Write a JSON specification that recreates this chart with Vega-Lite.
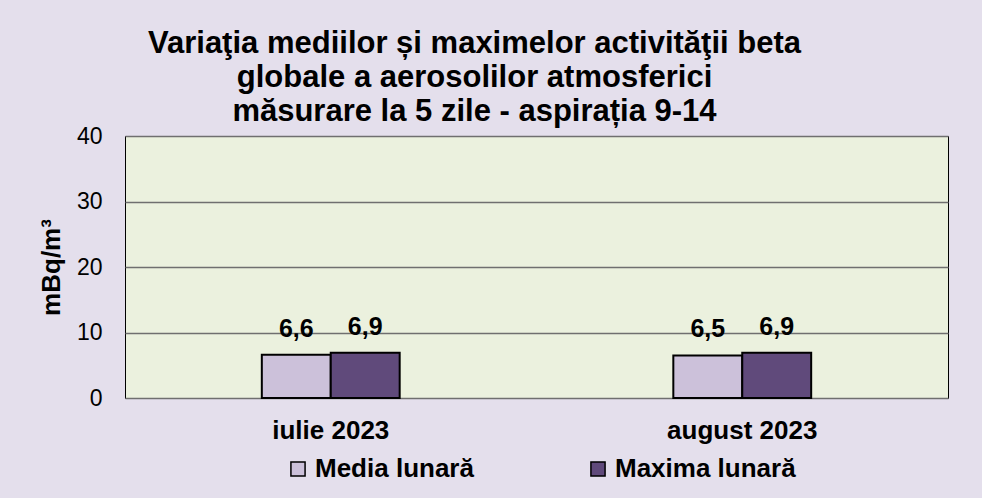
{
  "$schema": "https://vega.github.io/schema/vega-lite/v6.json",
  "width": 823,
  "height": 262,
  "autosize": {"type": "none"},
  "padding": {"left": 125, "top": 136, "right": 34, "bottom": 100},
  "background": "#E4DFEC",
  "title": {
    "text": ["Variaţia mediilor și maximelor  activităţii beta", "globale a aerosolilor atmosferici", "măsurare la 5 zile - aspirația 9-14"],
    "font": "Liberation Sans",
    "fontSize": 31,
    "fontWeight": "bold",
    "color": "#000000",
    "lineHeight": 34,
    "anchor": "middle",
    "frame": "group",
    "dx": -62,
    "offset": -3
  },
  "data": {
    "values": [
      {"month": "iulie 2023", "series": "Media lunară", "value": 6.6},
      {"month": "iulie 2023", "series": "Maxima lunară", "value": 6.9},
      {"month": "august 2023", "series": "Media lunară", "value": 6.5},
      {"month": "august 2023", "series": "Maxima lunară", "value": 6.9}
    ]
  },
  "encoding": {
    "x": {
      "field": "month",
      "type": "nominal",
      "sort": null,
      "scale": {"paddingInner": 0.665, "paddingOuter": 0.3325},
      "axis": {
        "title": null,
        "labelAngle": 0,
        "labelFont": "Liberation Sans",
        "labelFontSize": 26,
        "labelFontWeight": "bold",
        "labelColor": "#000000",
        "labelPadding": 19,
        "ticks": false,
        "domain": false,
        "grid": false
      }
    },
    "xOffset": {
      "field": "series",
      "sort": ["Media lunară", "Maxima lunară"],
      "scale": {"paddingInner": 0, "paddingOuter": 0}
    },
    "y": {
      "field": "value",
      "type": "quantitative",
      "scale": {"domain": [0, 40], "nice": false},
      "axis": {
        "title": "mBq/m³",
        "titleFont": "Liberation Sans",
        "titleFontSize": 26,
        "titleFontWeight": "bold",
        "titleColor": "#000000",
        "titlePadding": 12,
        "values": [0, 10, 20, 30, 40],
        "labelFont": "Liberation Sans",
        "labelFontSize": 23,
        "labelColor": "#000000",
        "labelPadding": 23,
        "ticks": false,
        "domain": false,
        "grid": true,
        "gridColor": "#6F6F6F",
        "gridWidth": 1.5
      }
    }
  },
  "layer": [
    {
      "mark": {"type": "bar", "stroke": "#000000", "strokeWidth": 2},
      "encoding": {
        "color": {
          "field": "series",
          "type": "nominal",
          "scale": {"domain": ["Media lunară", "Maxima lunară"], "range": ["#CCC1DA", "#604A7B"]},
          "legend": {
            "title": null,
            "orient": "none",
            "direction": "horizontal",
            "legendX": 160,
            "legendY": 320,
            "labelFont": "Liberation Sans",
            "labelFontSize": 26,
            "labelFontWeight": "bold",
            "labelColor": "#000000",
            "labelLimit": 400,
            "symbolType": "square",
            "symbolSize": 200,
            "symbolStrokeColor": "#000000",
            "symbolStrokeWidth": 1.5,
            "labelOffset": 4,
            "columnPadding": 111
          }
        }
      }
    },
    {
      "mark": {"type": "text", "font": "Liberation Sans", "fontSize": 25, "fontWeight": "bold", "baseline": "alphabetic", "dy": -18, "color": "#000000"},
      "encoding": {
        "text": {"field": "value", "type": "quantitative", "format": ".1f"}
      }
    }
  ],
  "config": {
    "locale": {"number": {"decimal": ",", "thousands": ".", "grouping": [3], "currency": ["", " lei"]}},
    "view": {"fill": "#EBF1DE", "stroke": "#000000", "strokeWidth": 1}
  }
}
